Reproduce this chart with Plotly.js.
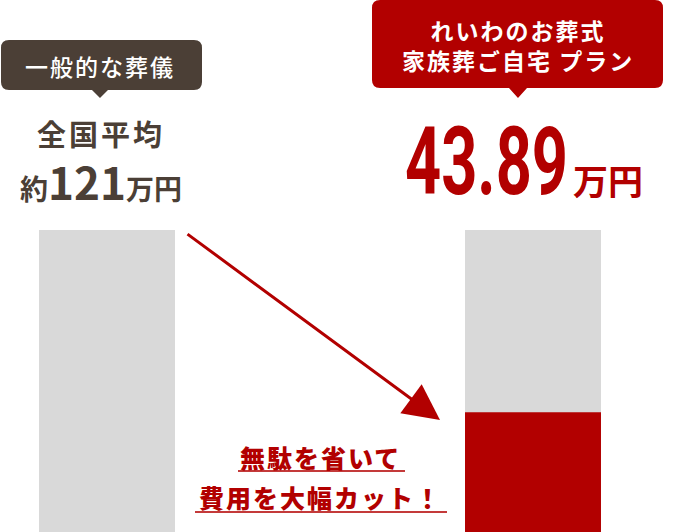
<!DOCTYPE html>
<html>
<head>
<meta charset="utf-8">
<script src="https://cdn.plot.ly/plotly-3.0.1.min.js"></script>
<style>html,body{margin:0;padding:0;background:#fff;}#chart{width:676px;height:532px;}</style>
</head>
<body>
<div id="chart"></div>
<script>
// ---- data ----
const categories = ["一般的な葬儀", "れいわのお葬式 家族葬ご自宅 プラン"];
const fullValues = [121, 121];        // gray bars (121万円 reference height)
const planValues = [null, 48];        // red bar as drawn
const labelAverage = "全国平均";
const labelAveragePrice = ["約", "121", "万円"];
const labelPlanPrice = ["43.89", "万円"];
const calloutLeft = "一般的な葬儀";
const calloutRight = ["れいわのお葬式", "家族葬ご自宅 プラン"];
const cutText = ["無駄を省いて", "費用を大幅カット！"];

// ---- helpers (pixel -> paper) ----
const W = 676, H = 532;
const px = x => x / W;
const py = y => 1 - y / H;
const JP = '"Noto Sans CJK JP", "Noto Sans", sans-serif';

function roundRect(x0, y0, x1, y1, r, tipX, tipW, tipY) {
  const P = (x, y) => px(x).toFixed(5) + ',' + py(y).toFixed(5);
  return 'M' + P(x0 + r, y0) +
    ' L' + P(x1 - r, y0) + ' Q' + P(x1, y0) + ' ' + P(x1, y0 + r) +
    ' L' + P(x1, y1 - r) + ' Q' + P(x1, y1) + ' ' + P(x1 - r, y1) +
    ' L' + P(tipX + tipW, y1) + ' L' + P(tipX, tipY) + ' L' + P(tipX - tipW, y1) +
    ' L' + P(x0 + r, y1) + ' Q' + P(x0, y1) + ' ' + P(x0, y1 - r) +
    ' L' + P(x0, y0 + r) + ' Q' + P(x0, y0) + ' ' + P(x0 + r, y0) + ' Z';
}

const traces = [
  {type: 'bar', x: [0, 1], y: fullValues, width: 0.3192,
   marker: {color: '#d9d9d9', line: {width: 0}}, hoverinfo: 'skip'},
  {type: 'bar', x: [0, 1], y: planValues, width: 0.3192,
   marker: {color: '#b20000', line: {width: 0}}, hoverinfo: 'skip'}
];

const layout = {
  width: W, height: H,
  margin: {l: 0, r: 0, t: 0, b: 0},
  paper_bgcolor: '#ffffff', plot_bgcolor: '#ffffff',
  barmode: 'overlay', showlegend: false,
  xaxis: {range: [-107/426, 569/426], visible: false, fixedrange: true},
  yaxis: {range: [0, 121 * 532 / 302], visible: false, fixedrange: true},
  shapes: [
    {type: 'path', xref: 'paper', yref: 'paper', layer: 'above',
     path: roundRect(1, 40, 202, 90, 8, 100, 8, 98),
     fillcolor: '#4b3f36', line: {width: 0}},
    {type: 'path', xref: 'paper', yref: 'paper', layer: 'above',
     path: roundRect(372, 0, 663, 88, 8, 518, 9, 98),
     fillcolor: '#b20000', line: {width: 0}},
    {type: 'line', xref: 'paper', yref: 'paper',
     x0: px(238), x1: px(405), y0: py(471), y1: py(471),
     line: {color: '#c43a3a', width: 2}},
    {type: 'line', xref: 'paper', yref: 'paper',
     x0: px(195), x1: px(447), y0: py(512), y1: py(512),
     line: {color: '#c43a3a', width: 2}}
  ],
  annotations: [
    {xref: 'paper', yref: 'paper', x: px(100), y: py(66), xanchor: 'center', yanchor: 'middle',
     showarrow: false, text: '<span style="letter-spacing:2px">' + calloutLeft + '</span>',
     font: {family: JP, size: 23, color: '#ffffff', weight: 500}},
    {xref: 'paper', yref: 'paper', x: px(518), y: py(45), xanchor: 'center', yanchor: 'middle',
     showarrow: false, align: 'center',
     text: '<span style="letter-spacing:2px">' + calloutRight.join('<br>') + '</span>',
     font: {family: JP, size: 23, color: '#ffffff', weight: 700}},
    {xref: 'paper', yref: 'paper', x: px(101), y: py(133), xanchor: 'center', yanchor: 'middle',
     showarrow: false, text: '<span style="letter-spacing:3px">' + labelAverage + '</span>',
     font: {family: JP, size: 29, color: '#4b3f36', weight: 700}},
    {xref: 'paper', yref: 'paper', x: px(101), y: py(181), xanchor: 'center', yanchor: 'middle',
     showarrow: false,
     text: labelAveragePrice[0] + '<span style="font-size:44px">' + labelAveragePrice[1] + '</span>' + labelAveragePrice[2],
     font: {family: JP, size: 28, color: '#4b3f36', weight: 700}},
    {xref: 'paper', yref: 'paper', x: px(486.5), y: py(162), xanchor: 'center', yanchor: 'middle',
     showarrow: false, text: labelPlanPrice[0],
     font: {family: 'Roboto, "DejaVu Sans", sans-serif', size: 94, color: '#b20000', weight: 700}},
    {xref: 'paper', yref: 'paper', x: px(571), y: py(179), xanchor: 'left', yanchor: 'middle',
     showarrow: false, text: labelPlanPrice[1],
     font: {family: JP, size: 35, color: '#b20000', weight: 700}},
    {xref: 'paper', yref: 'paper', x: px(320), y: py(457), xanchor: 'center', yanchor: 'middle',
     showarrow: false, text: '<span style="letter-spacing:2px">' + cutText[0] + '</span>',
     font: {family: JP, size: 25, color: '#b20000', weight: 900}},
    {xref: 'paper', yref: 'paper', x: px(320), y: py(497), xanchor: 'center', yanchor: 'middle',
     showarrow: false, text: '<span style="letter-spacing:2px">' + cutText[1] + '</span>',
     font: {family: JP, size: 25, color: '#b20000', weight: 900}},
    {xref: 'paper', yref: 'paper', x: px(440), y: py(420), axref: 'pixel', ayref: 'pixel',
     ax: -254, ay: -187, showarrow: true, text: '',
     arrowcolor: '#b20000', arrowwidth: 3, arrowhead: 2, arrowsize: 2.4, standoff: 0}
  ]
};

Plotly.newPlot('chart', traces, layout, {displayModeBar: false, staticPlot: true}).then(gd => {
  // condense the large price figure horizontally (the original uses a condensed face)
  const t = gd.querySelector('.annotation[data-index="4"] text.annotation-text');
  if (t) {
    const b = t.getBBox();
    const cx = b.x + b.width / 2;
    const targetW = 163;
    const s = Math.min(1, targetW / b.width);
    t.setAttribute('transform', `translate(${cx},0) scale(${s},1) translate(${-cx},0)`);
  }
});
</script>
</body>
</html>
